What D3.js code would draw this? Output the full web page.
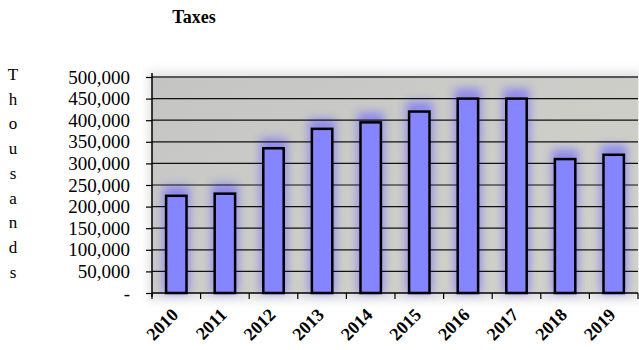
<!DOCTYPE html>
<html>
<head>
<meta charset="utf-8">
<script src="https://cdn.jsdelivr.net/npm/d3@7"></script>
<style>
  body { margin: 0; background: #fff; }
  svg text { font-family: "Liberation Serif", "Times New Roman", serif; }
</style>
</head>
<body>
<div id="chart"></div>
<script>
const years = ["2010", "2011", "2012", "2013", "2014", "2015", "2016", "2017", "2018", "2019"];
const taxes = [225000, 230000, 335000, 380000, 395000, 420000, 450000, 450000, 310000, 320000];
const yTicks = [0, 50000, 100000, 150000, 200000, 250000, 300000, 350000, 400000, 450000, 500000];
const axisTitle = "Thousands";

const data = years.map((y, i) => ({ year: y, value: taxes[i] }));

const W = 639, H = 350;
const margin = { top: 77, right: 1, bottom: 57, left: 152 };
const width = W - margin.left - margin.right,
      height = H - margin.top - margin.bottom;

const svg = d3.select("#chart").append("svg")
  .attr("width", W)
  .attr("height", H);

const defs = svg.append("defs");
const bg = defs.append("linearGradient").attr("id", "bg").attr("x1", 0).attr("y1", 0).attr("x2", 1).attr("y2", 1);
bg.append("stop").attr("offset", "0%").attr("stop-color", "#c4c4c4");
bg.append("stop").attr("offset", "50%").attr("stop-color", "#cdcdc8");
bg.append("stop").attr("offset", "100%").attr("stop-color", "#d2d2ca");

const glow = defs.append("filter").attr("id", "glow").attr("x", "-80%").attr("y", "-20%").attr("width", "260%").attr("height", "140%");
glow.append("feGaussianBlur").attr("stdDeviation", 5);

const shadow = defs.append("filter").attr("id", "shadow").attr("x", "-5%").attr("y", "-10%").attr("width", "110%").attr("height", "120%");
shadow.append("feGaussianBlur").attr("stdDeviation", 4);

// title
svg.append("text")
  .attr("x", 194)
  .attr("y", 23)
  .attr("text-anchor", "middle")
  .attr("font-weight", "bold")
  .attr("font-size", 18)
  .text("Taxes");

// vertical stacked axis title
svg.append("g").selectAll("text")
  .data(axisTitle.split(""))
  .join("text")
  .attr("x", 13)
  .attr("y", (d, i) => 80 + i * 24.7)
  .attr("text-anchor", "middle")
  .attr("font-size", 17)
  .text(d => d);

const g = svg.append("g").attr("transform", `translate(${margin.left},${margin.top})`);

const x = d3.scaleBand()
  .domain(years)
  .range([0, width])
  .paddingInner(0.58)
  .paddingOuter(0.29);

const y = d3.scaleLinear()
  .domain([0, 500000])
  .range([height, 0]);

// plot background + soft shadow
g.append("rect")
  .attr("x", -4).attr("y", -6)
  .attr("width", width + 8).attr("height", height + 14)
  .attr("fill", "#e4e4e4")
  .attr("filter", "url(#shadow)");
g.append("rect")
  .attr("width", width).attr("height", height)
  .attr("fill", "url(#bg)");
g.append("line")
  .attr("x1", 0).attr("x2", width).attr("y1", 0).attr("y2", 0)
  .attr("stroke", "#888").attr("stroke-width", 1.5);

// glow behind bars
g.append("g").selectAll("rect")
  .data(data)
  .join("rect")
  .attr("x", d => x(d.year) - 3)
  .attr("y", d => y(d.value) - 10)
  .attr("width", x.bandwidth() + 6)
  .attr("height", d => height - y(d.value) + 10)
  .attr("fill", "#7f78f5")
  .attr("opacity", 0.8)
  .attr("filter", "url(#glow)");

// gridlines
g.append("g").selectAll("line")
  .data(yTicks.slice(1))
  .join("line")
  .attr("x1", 0).attr("x2", width)
  .attr("y1", d => y(d)).attr("y2", d => y(d))
  .attr("stroke", "#111").attr("stroke-width", 1.2);

// bars
g.append("g").selectAll("rect")
  .data(data)
  .join("rect")
  .attr("x", d => x(d.year))
  .attr("y", d => y(d.value))
  .attr("width", x.bandwidth())
  .attr("height", d => height - y(d.value))
  .attr("fill", "#8585ff")
  .attr("stroke", "#000")
  .attr("stroke-width", 2.5);

// y axis
const yAxis = g.append("g")
  .call(d3.axisLeft(y)
    .tickValues(yTicks)
    .tickSize(6)
    .tickPadding(16)
    .tickFormat(d => d === 0 ? "-" : d3.format(",")(d)));
yAxis.attr("font-family", null);
yAxis.select(".domain").attr("stroke", "#000").attr("stroke-width", 1.5).attr("d", `M0,-4V${height + 4}`);
yAxis.selectAll(".tick line").attr("stroke-width", 1.2);
yAxis.selectAll("text")
  .style("font-family", "'Liberation Serif', 'Times New Roman', serif")
  .style("font-size", "19px")
  .attr("fill", "#000");

// x axis with ticks at category boundaries
const xg = g.append("g").attr("transform", `translate(0,${height})`);
xg.append("line")
  .attr("x1", 0).attr("x2", width)
  .attr("stroke", "#000").attr("stroke-width", 1.5);
xg.selectAll(".xt")
  .data(d3.range(years.length + 1))
  .join("line")
  .attr("class", "xt")
  .attr("x1", i => i * width / years.length)
  .attr("x2", i => i * width / years.length)
  .attr("y1", 0).attr("y2", 6)
  .attr("stroke", "#000").attr("stroke-width", 1.2);
xg.selectAll(".xl")
  .data(years)
  .join("text")
  .attr("class", "xl")
  .attr("text-anchor", "end")
  .attr("font-weight", "bold")
  .attr("font-size", 18)
  .attr("transform", d => `translate(${x(d) + x.bandwidth() / 2 + 3},${23}) rotate(-45)`)
  .text(d => d);
</script>
</body>
</html>
